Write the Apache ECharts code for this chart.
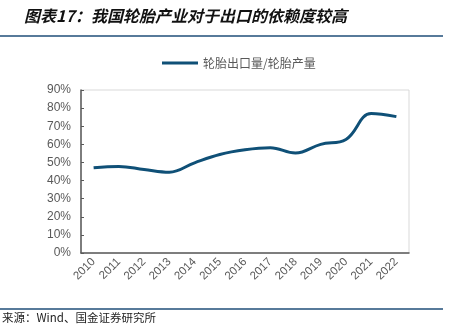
<!DOCTYPE html>
<html><head><meta charset="utf-8">
<script src="https://cdn.jsdelivr.net/npm/echarts@6/dist/echarts.min.js"></script>
<style>html,body{margin:0;padding:0;background:#fff}#c{width:454px;height:326px}</style>
</head><body><div id="c"></div>
<script>
const categories = ['2010','2011','2012','2013','2014','2015','2016','2017','2018','2019','2020','2021','2022'];
const ratio = [47.1, 47.8, 46.1, 44.6, 49.8, 54.4, 57.0, 58.1, 55.2, 60.0, 62.7, 77.0, 75.3];
const seriesName = '轮胎出口量/轮胎产量';
const chart = echarts.init(document.getElementById('c'), null, {renderer:'canvas'});
chart.setOption({
  animation:false,
  graphic:[
    {type:'text', left:24, top:8, style:{text:'图表17：我国轮胎产业对于出口的依赖度较高', font:'italic bold 16px "Noto Sans CJK SC"', fill:'#111'}},
    {type:'line', shape:{x1:0,y1:36,x2:443,y2:36}, style:{stroke:'#1f4e79', lineWidth:1.5}},
    {type:'line', shape:{x1:0,y1:309,x2:443,y2:309}, style:{stroke:'#1f4e79', lineWidth:1.5}},
    {type:'text', left:2, top:312, style:{text:'来源：Wind、国金证券研究所', font:'11.5px "Noto Sans CJK SC"', fill:'#222'}}
  ],
  legend:{top:52, left:157, itemWidth:36, itemHeight:3, itemGap:3, textStyle:{color:'#595959', fontSize:12, fontFamily:'"Noto Sans CJK SC"'}, data:[{name:seriesName, icon:'rect'}]},
  grid:{left:81, right:45, top:90, bottom:73, show:true, borderColor:'#d9d9d9', borderWidth:1},
  xAxis:{type:'category', data:categories, boundaryGap:true,
    axisLine:{lineStyle:{color:'#595959', width:1.5}},
    axisTick:{inside:true, length:3, lineStyle:{color:'#595959'}},
    axisLabel:{rotate:45, color:'#595959', fontSize:11.5, fontFamily:'Arial, "Liberation Sans"', margin:7, interval:0}},
  yAxis:{type:'value', min:0, max:90, interval:10,
    axisLine:{show:true, lineStyle:{color:'#595959', width:1.5}},
    axisTick:{show:true, inside:true, length:3, lineStyle:{color:'#595959'}},
    splitLine:{show:false},
    axisLabel:{formatter:'{value}%', color:'#595959', fontSize:12, fontFamily:'Arial, "Liberation Sans"', margin:10}},
  series:[{name:seriesName, type:'line', data:ratio, smooth:0.4, symbol:'none', lineStyle:{color:'#0f5077', width:3}, itemStyle:{color:'#0f5077'}}]
});
</script></body></html>
